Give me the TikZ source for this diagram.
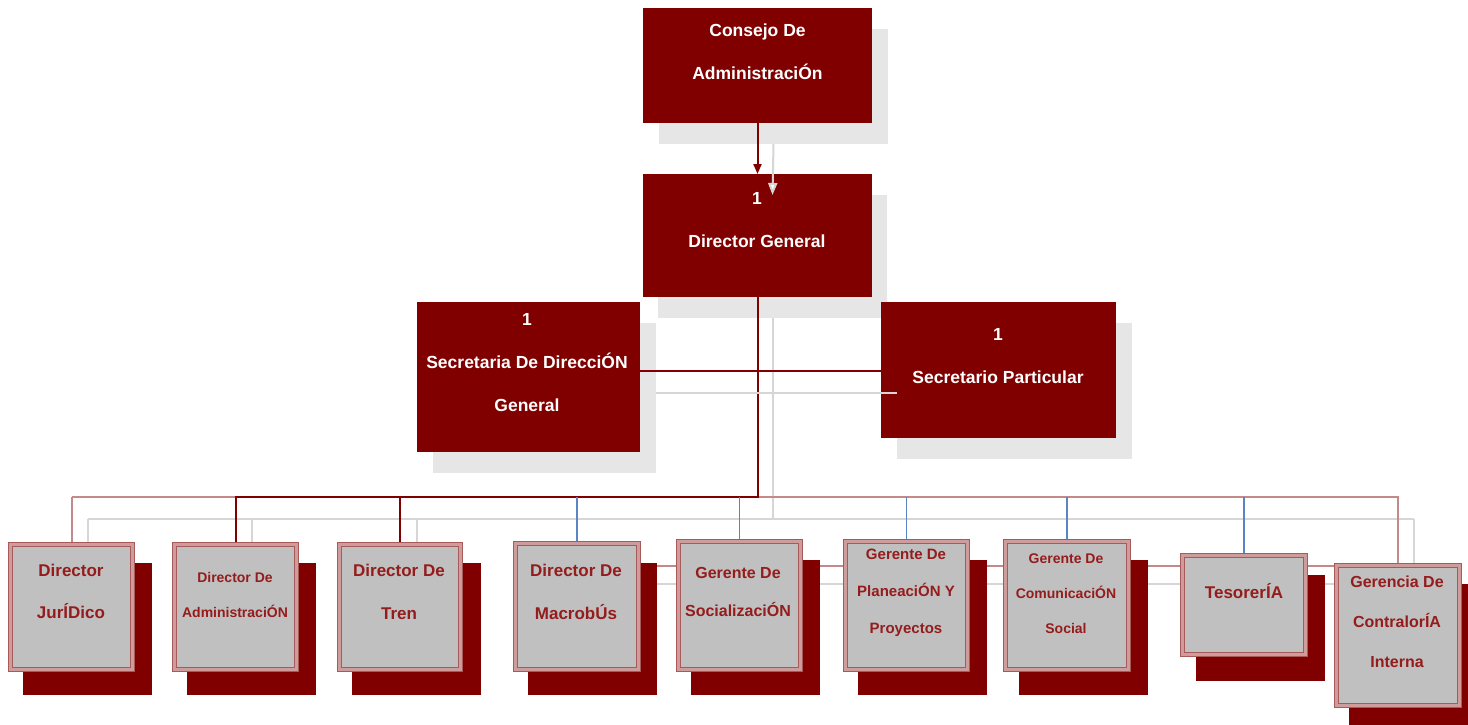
\documentclass[tikz,border=0pt]{standalone}
\usepackage{fontspec}
\setmainfont{Liberation Sans}
\usetikzlibrary{arrows.meta}
\definecolor{dred}{HTML}{800000}
\definecolor{shgray}{HTML}{E6E6E6}
\definecolor{boxgray}{HTML}{C0C0C0}
\definecolor{bord}{HTML}{A85A5A}
\definecolor{bordin}{HTML}{CF9C9C}
\definecolor{txtred}{HTML}{951C1C}
\definecolor{lred}{HTML}{C48A8A}
\definecolor{lgray}{HTML}{D6D6D6}
\definecolor{blueline}{HTML}{5B84C8}
\tikzset{
  botbox/.style={fill=boxgray, draw=bord, double=bordin, line width=1.3pt, double distance=2.4pt},
  boxpos/.style={inner sep=0pt, outer sep=0pt},
  toptext/.style={text=white, align=center, inner sep=0pt, font=\fontsize{17.5}{43}\selectfont\bfseries},
  bottext/.style={text=txtred, align=center, inner sep=0pt},
  redline/.style={draw=dred, line width=2pt},
  lredline/.style={draw=lred, line width=2pt},
  grayline/.style={draw=lgray, line width=2pt},
  blueln/.style={draw=blueline, line width=1.6pt},
}
\begin{document}
\begin{tikzpicture}[x=1pt,y=-1pt]
\useasboundingbox (0,0) rectangle (1468,725);
\fill[white] (0,0) rectangle (1468,725);
\coordinate (busR) at (0,497);
\coordinate (busG) at (0,519);
\coordinate (busT) at (0,371);
\coordinate (busS) at (0,393);

% ---------- positions of the main boxes ----------
\path (757.5,65.5) node[boxpos, minimum width=229pt, minimum height=115pt] (cons) {};
\path (757.5,235.5) node[boxpos, minimum width=229pt, minimum height=123pt] (dg) {};
\path (528.5,377) node[boxpos, minimum width=223pt, minimum height=150pt] (sec) {};
\path (998.5,370) node[boxpos, minimum width=235pt, minimum height=136pt] (sp) {};
\path (71.5,607) node[boxpos, minimum width=122pt, minimum height=125pt] (jur) {};
\path (235.5,607) node[boxpos, minimum width=122pt, minimum height=125pt] (adm) {};
\path (400,607) node[boxpos, minimum width=121pt, minimum height=125pt] (tren) {};
\path (577,606.5) node[boxpos, minimum width=123pt, minimum height=126pt] (mac) {};
\path (739.5,605.5) node[boxpos, minimum width=122pt, minimum height=128pt] (soc) {};
\path (906.5,605.5) node[boxpos, minimum width=122pt, minimum height=128pt] (plan) {};
\path (1067,605.5) node[boxpos, minimum width=123pt, minimum height=128pt] (com) {};
\path (1244,605) node[boxpos, minimum width=123pt, minimum height=99pt] (tes) {};
\path (1398,635.5) node[boxpos, minimum width=123pt, minimum height=140pt] (con) {};

% ---------- positions of the shadows ----------
\path (773.5,86.5) node[boxpos, minimum width=229pt, minimum height=115pt] (consh) {};
\path (772.5,256.5) node[boxpos, minimum width=229pt, minimum height=123pt] (dgsh) {};
\path (544.5,398) node[boxpos, minimum width=223pt, minimum height=150pt] (secsh) {};
\path (1014.5,391) node[boxpos, minimum width=235pt, minimum height=136pt] (spsh) {};
\path (87.5,629) node[boxpos, minimum width=129pt, minimum height=132pt] (jursh) {};
\path (251.5,629) node[boxpos, minimum width=129pt, minimum height=132pt] (admsh) {};
\path (416.5,629) node[boxpos, minimum width=129pt, minimum height=132pt] (trensh) {};
\path (592.5,629) node[boxpos, minimum width=129pt, minimum height=132pt] (macsh) {};
\path (755.5,627.5) node[boxpos, minimum width=129pt, minimum height=135pt] (socsh) {};
\path (922.5,627.5) node[boxpos, minimum width=129pt, minimum height=135pt] (plansh) {};
\path (1083,627.5) node[boxpos, minimum width=129pt, minimum height=135pt] (comsh) {};
\path (1260,628) node[boxpos, minimum width=129pt, minimum height=106pt] (tessh) {};
\path (1413.5,657.5) node[boxpos, minimum width=129pt, minimum height=147pt] (consh2) {};

% ---------- connectors lying behind everything ----------
\draw[lredline] (mac.east |- con.north) -- (con.north west);
\draw[grayline] (macsh.east |- consh2.north) -- (consh2.north west);

% ---------- shadows ----------
\foreach \n in {consh,dgsh,secsh,spsh}
  \fill[shgray] (\n.north west) rectangle (\n.south east);
\foreach \n in {jursh,admsh,trensh,macsh,socsh,plansh,comsh,tessh,consh2}
  \fill[dred] (\n.north west) rectangle (\n.south east);

% ---------- shadow connectors ----------
\draw[grayline] (dgsh.south) -- (dgsh.south |- busG);
\draw[grayline] (jursh.north |- busG) -- (consh2.north |- busG);
\draw[grayline] (jursh.north |- busG) -- (jursh.north);
\draw[grayline] (admsh.north |- busG) -- (admsh.north);
\draw[grayline] (trensh.north |- busG) -- (trensh.north);
\draw[grayline] (consh2.north |- busG) -- (consh2.north);

% ---------- red / blue connectors ----------
\draw[lredline] (jur.north |- busR) -- (adm.north |- busR);
\draw[lredline] (dg.south |- busR) -- (con.north |- busR) -- (con.north);
\draw[lredline] (jur.north |- busR) -- (jur.north);
\draw[redline] (dg.south) -- (dg.south |- busR) -| (adm.north);
\draw[redline] (tren.north |- busR) -- (tren.north);
\draw[blueln] (mac.north |- busR) -- (mac.north);
\draw[blueln] (soc.north |- busR) -- (soc.north);
\draw[blueln] (plan.north |- busR) -- (plan.north);
\draw[blueln] (com.north |- busR) -- (com.north);
\draw[blueln] (tes.north |- busR) -- (tes.north);
\draw[redline] (sec.east |- busT) -- (sp.west |- busT);
\draw[redline, -{Triangle[length=10pt,width=8pt]}] (cons.south) -- (dg.north);

% ---------- main boxes ----------
\foreach \n in {cons,dg,sec,sp}
  \fill[dred] (\n.north west) rectangle (\n.south east);
\foreach \n in {jur,adm,tren,mac,soc,plan,com,tes,con}
  \draw[botbox] (\n.north west) rectangle (\n.south east);

% ---------- shadow connectors in front ----------
\draw[grayline, -{Triangle[length=12pt,width=9pt,fill=white]}] (consh.south) -- (dgsh.north);
\draw[grayline] (secsh.east |- busS) -- (spsh.west |- busS);

% ---------- texts ----------
\node[toptext] (tcons) at (757.5,51.5) {Consejo De\\AdministraciÓn};
\node[toptext] (tdg) at (757,220.5) {1\\Director General};
\node[toptext] (tsec) at (527,363) {1\\Secretaria De DirecciÓN\\General};
\node[toptext] (tsp) at (998,356.5) {1\\Secretario Particular};

\node[bottext, font=\fontsize{17}{42}\selectfont\bfseries] (tjur) at (71,591) {Director\\JurÍDico};
\node[bottext, font=\fontsize{14}{35}\selectfont\bfseries] (tadm) at (235,594.5) {Director De\\AdministraciÓN};
\node[bottext, font=\fontsize{17}{43}\selectfont\bfseries] (ttren) at (399,591.5) {Director De\\Tren};
\node[bottext, font=\fontsize{17}{43}\selectfont\bfseries] (tmac) at (576,591.5) {Director De\\MacrobÚs};
\node[bottext, font=\fontsize{16}{38}\selectfont\bfseries] (tsoc) at (738,592) {Gerente De\\SocializaciÓN};
\node[bottext, font=\fontsize{15}{37}\selectfont\bfseries] (tplan) at (906,593) {Gerente De\\PlaneaciÓN Y\\Proyectos};
\node[bottext, font=\fontsize{14}{35}\selectfont\bfseries] (tcom) at (1066,593.5) {Gerente De\\ComunicaciÓN\\Social};
\node[bottext, font=\fontsize{17}{43}\selectfont\bfseries] (ttes) at (1244,591) {TesorerÍA};
\node[bottext, font=\fontsize{16}{40}\selectfont\bfseries] (tcon) at (1397,621.5) {Gerencia De\\ContralorÍA\\Interna};
\end{tikzpicture}
\end{document}
